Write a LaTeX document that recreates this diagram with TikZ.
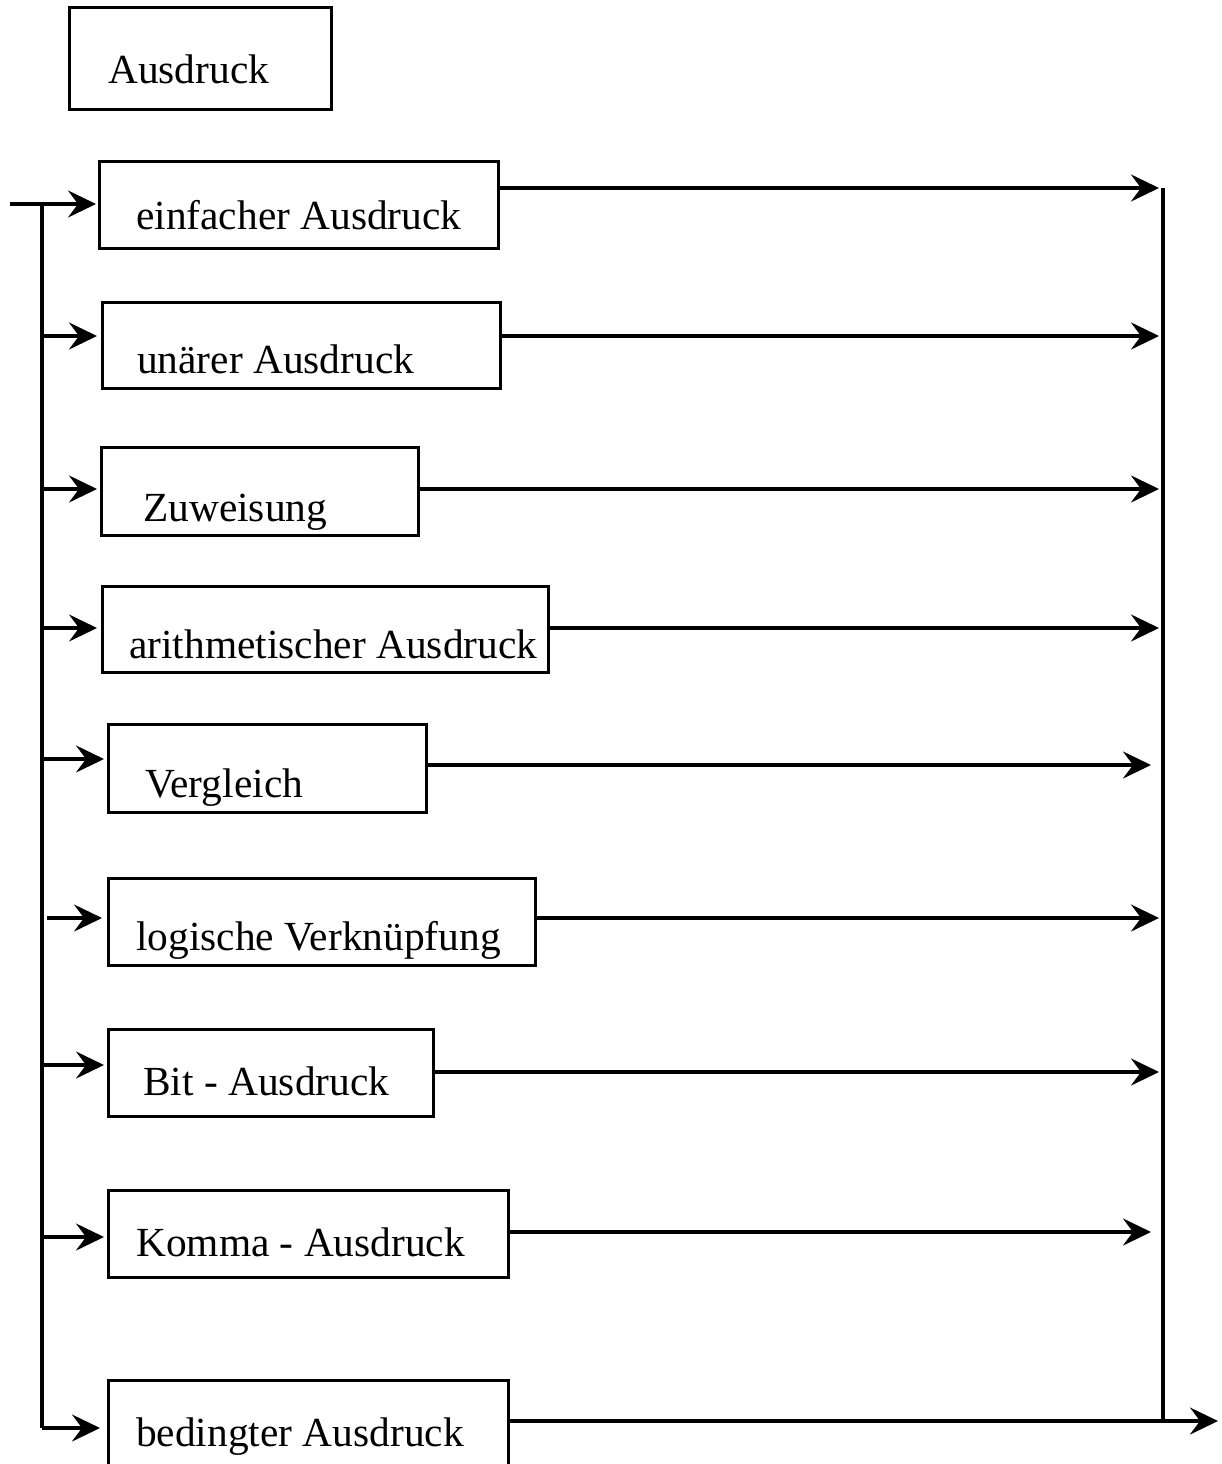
\documentclass[tikz,border=0pt]{standalone}
\usepackage{fontspec}
\setmainfont{Liberation Serif}
\usetikzlibrary{arrows.meta}
\tikzset{
  box/.style={draw, line width=3pt, rectangle, inner sep=0pt},
  lbl/.style={anchor=base west, inner sep=0pt, font=\fontsize{41.4}{50}\selectfont},
  ln/.style={line width=3.3pt},
  arr/.style={line width=3.3pt, -{Stealth[length=28pt,width=27pt,inset=10pt]}}}
\begin{document}
\begin{tikzpicture}[x=1pt,y=-1pt]
\useasboundingbox (0,0) rectangle (1221,1464);
% boxes
\node[box, minimum width=262pt, minimum height=101pt] (b0) at (200,58.5) {};
\node[box, minimum width=399pt, minimum height=87pt] (b1) at (298.5,204.5) {};
\node[box, minimum width=398pt, minimum height=86pt] (b2) at (301,345) {};
\node[box, minimum width=317pt, minimum height=88pt] (b3) at (259.5,491) {};
\node[box, minimum width=446pt, minimum height=86pt] (b4) at (325,629) {};
\node[box, minimum width=318pt, minimum height=88pt] (b5) at (267,768) {};
\node[box, minimum width=427pt, minimum height=87pt] (b6) at (321.5,921.5) {};
\node[box, minimum width=325pt, minimum height=87pt] (b7) at (270.5,1072.5) {};
\node[box, minimum width=400pt, minimum height=87pt] (b8) at (308,1233.5) {};
\node[box, minimum width=400pt, minimum height=120pt] (b9) at (308,1440) {};
% labels
\node[lbl] (t0) at (108,83) {Ausdruck};
\node[lbl] (t1) at (136,229) {einfacher Ausdruck};
\node[lbl] (t2) at (137,373) {unärer Ausdruck};
\node[lbl] (t3) at (143,521) {Zuweisung};
\node[lbl] (t4) at (129,658) {arithmetischer Ausdruck};
\node[lbl] (t5) at (145,797) {Vergleich};
\node[lbl] (t6) at (136,950) {logische Verknüpfung};
\node[lbl] (t7) at (143,1095) {Bit - Ausdruck};
\node[lbl] (t8) at (136,1256) {Komma - Ausdruck};
\node[lbl] (t9) at (136,1446) {bedingter Ausdruck};
% left side coordinates
\coordinate (in) at (10,204);
\coordinate (L1) at (42,204);
\coordinate (E1) at (96,204);
\coordinate (L2) at (42,336);  \coordinate (E2) at (97,336);
\coordinate (L3) at (42,489);  \coordinate (E3) at (97,489);
\coordinate (L4) at (42,628);  \coordinate (E4) at (97,628);
\coordinate (L5) at (42,759);  \coordinate (E5) at (104,759);
\coordinate (L6) at (47,918);  \coordinate (E6) at (102,918);
\coordinate (L7) at (42,1065); \coordinate (E7) at (104,1065);
\coordinate (L8) at (42,1237); \coordinate (E8) at (104,1237);
\coordinate (L9) at (42,1428); \coordinate (E9) at (100,1428);
% right side coordinates
\coordinate (R1) at (1159,188);
\coordinate (R2) at (1159,336);
\coordinate (R3) at (1159,489);
\coordinate (R4) at (1159,628);
\coordinate (R5) at (1151,765);
\coordinate (R6) at (1159,918);
\coordinate (R7) at (1159,1072);
\coordinate (R8) at (1151,1232);
\coordinate (Vt) at (1163,188);
\coordinate (Vb) at (1163,1421);
\coordinate (out) at (1218,1421);
% left bus
\draw[ln] (in) -- (L1);
\draw[ln] (L1) -- (L9);
\draw[arr] (L1) -- (E1);
\draw[arr] (L2) -- (E2);
\draw[arr] (L3) -- (E3);
\draw[arr] (L4) -- (E4);
\draw[arr] (L5) -- (E5);
\draw[arr] (L6) -- (E6);
\draw[arr] (L7) -- (E7);
\draw[arr] (L8) -- (E8);
\draw[arr] (L9) -- (E9);
% right side
\draw[arr] (b1.east |- R1) -- (R1);
\draw[arr] (b2.east |- R2) -- (R2);
\draw[arr] (b3.east |- R3) -- (R3);
\draw[arr] (b4.east |- R4) -- (R4);
\draw[arr] (b5.east |- R5) -- (R5);
\draw[arr] (b6.east |- R6) -- (R6);
\draw[arr] (b7.east |- R7) -- (R7);
\draw[arr] (b8.east |- R8) -- (R8);
\draw[ln] (Vt) -- (Vb);
\draw[arr] (b9.east |- out) -- (out);
\end{tikzpicture}
\end{document}
